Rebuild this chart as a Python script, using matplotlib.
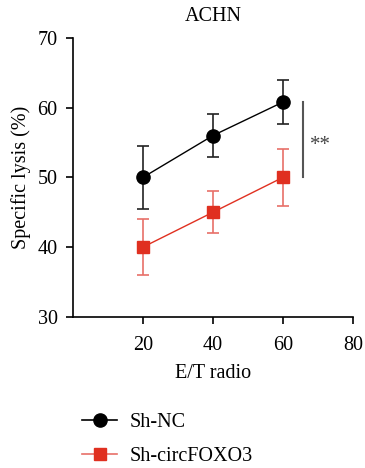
import matplotlib
matplotlib.use("Agg")
import matplotlib.pyplot as plt
from matplotlib.lines import Line2D

plt.rcParams['font.family'] = ['Liberation Serif', 'DejaVu Serif']
plt.rcParams['font.size'] = 14.5

# data
et_ratio = [20, 40, 60]
nc_mean = [50, 56, 60.8]
nc_err = [4.5, 3.1, 3.1]
foxo_mean = [40, 45, 50]
foxo_err = [4.0, 3.0, 4.1]
labels = ['Sh-NC', 'Sh-circFOXO3']
red = '#e03020'
red_light = '#e87068'

fig = plt.figure(figsize=(3.65, 4.68), dpi=100)
ax = fig.add_axes([0.2, 0.323, 0.767, 0.596])

ax.errorbar(et_ratio, nc_mean, yerr=nc_err, color='black', ecolor='#222222',
            marker='o', markersize=9.5, lw=1, elinewidth=1.2, capsize=4.5, capthick=1.2)
ax.errorbar(et_ratio, foxo_mean, yerr=foxo_err, color=red, ecolor=red_light,
            marker='s', markersize=8, lw=1, elinewidth=1.2, capsize=4.5, capthick=1.2)

# significance bar
ax.plot([65.7, 65.7], [50, 60.8], color='#555555', lw=1.5)
ax.text(67.8, 54.6, '**', color='#444444', fontsize=15, va='center', ha='left')

ax.set_xlim(0, 80)
ax.set_ylim(30, 70)
ax.set_xticks([20, 40, 60, 80])
ax.set_yticks([30, 40, 50, 60, 70])
ax.spines['top'].set_visible(False)
ax.spines['right'].set_visible(False)
ax.spines['left'].set_linewidth(1.2)
ax.spines['bottom'].set_linewidth(1.2)
ax.tick_params(length=5, width=1.2)
ax.tick_params(axis='x', pad=9)
ax.tick_params(axis='y', pad=6)
ax.set_xlabel('E/T radio', labelpad=6)
ax.set_ylabel('Specific lysis (%)', labelpad=5)
ax.set_title('ACHN', fontsize=14.5, pad=12)

handles = [Line2D([], [], color='black', marker='o', markersize=9.5, lw=1.2),
           Line2D([], [], color=red_light, marker='s', markersize=8, lw=1.2,
                  markerfacecolor=red, markeredgecolor=red)]
fig.legend(handles, labels, loc='lower left', bbox_to_anchor=(0.175, -0.035),
           frameon=False, handlelength=1.75, handletextpad=0.6,
           labelspacing=0.75, fontsize=14.5)

fig.savefig('out.png', dpi=100)
